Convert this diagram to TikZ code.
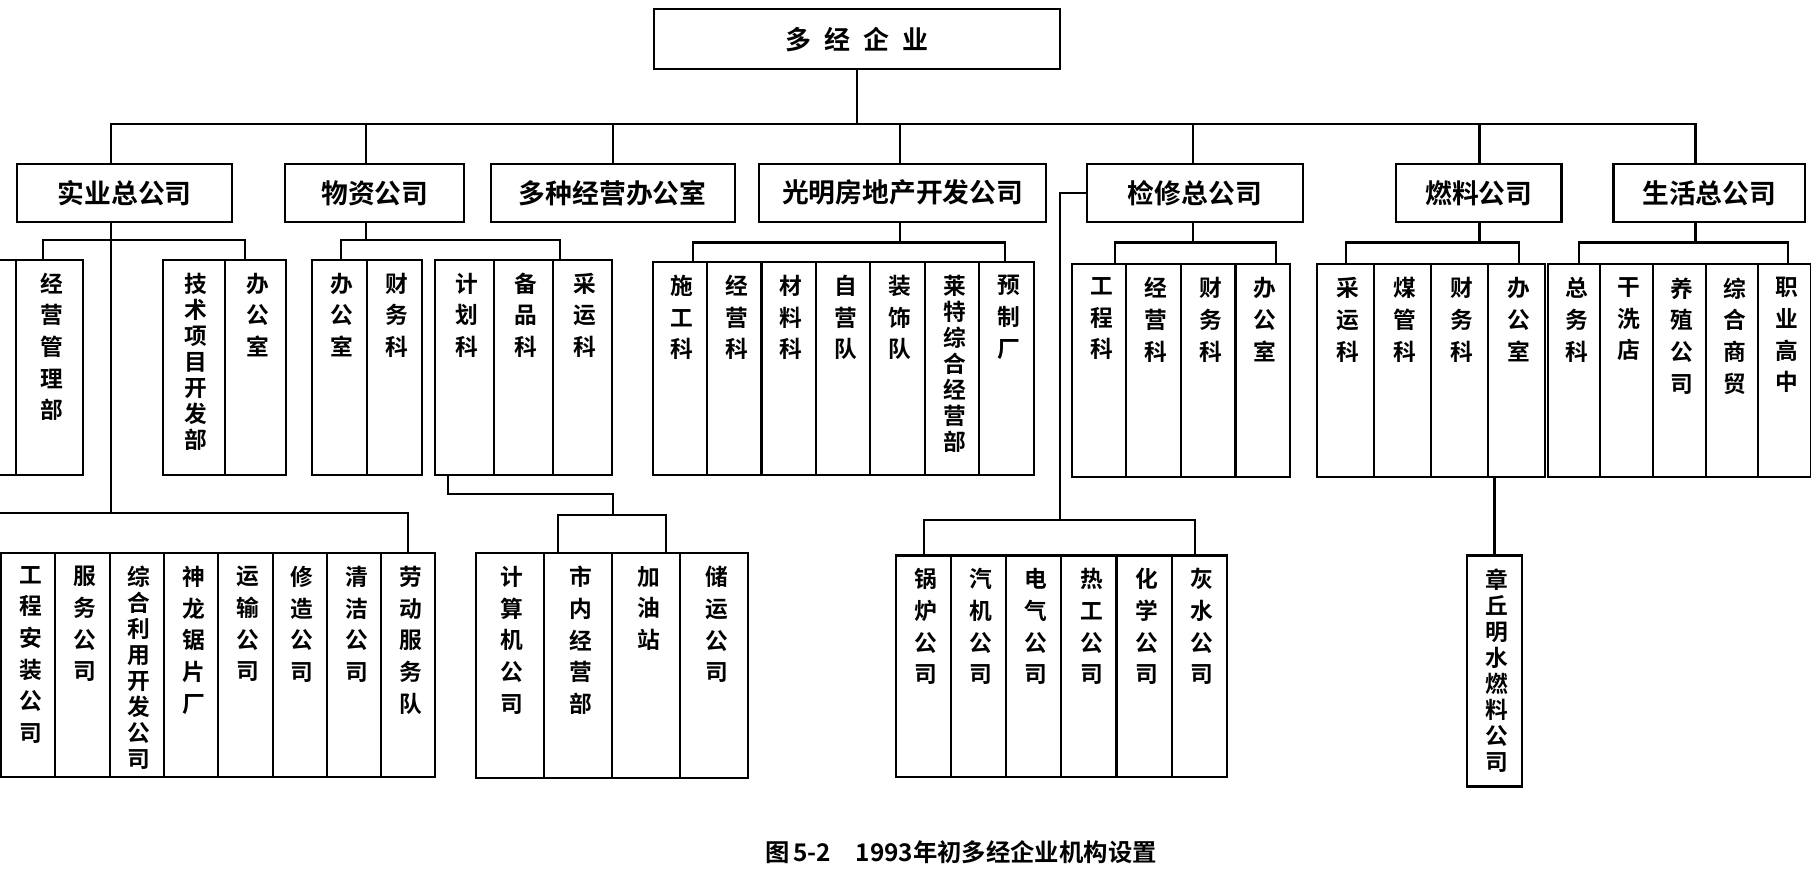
\documentclass[tikz,border=0pt]{standalone}
\usepackage{fontspec}
\newfontfamily\cjkb{Noto Sans CJK SC Bold}
\XeTeXlinebreaklocale "zh"
\XeTeXlinebreakskip=0pt plus 1pt
\newcommand\tg[1]{\fontsize{14}{16}\selectfont #1\par}
\tikzset{
  ln/.style={line width=1.3pt},
  col/.style={draw, line width=1.3pt, anchor=north, inner sep=0pt},
  vtxt/.style={anchor=north, text width=1.1em, align=center, inner sep=0pt, font=\cjkb\fontsize{14}{19.5}\selectfont},
  top/.style={draw, line width=1.3pt, inner sep=0pt, font=\cjkb\fontsize{16.5}{20}\selectfont}
}
% #1 prefix, #2 left, #3 col width, #4 top, #5 bottom, #6 list
\newcommand\grp[6]{%
  \foreach \t [count=\i] in {#6}{%
    \node[col, minimum width={#3*0.25mm}, minimum height={(#5-#4)*0.25mm}] (#1-\i) at ({#2+(\i-0.5)*#3},#4) {};
    \node[vtxt] at ([yshift=-3mm]#1-\i.north) {\t};
  }}
\newcommand\topbox[5]{% name, x1, x2, text
  \node[top, minimum width={(#3-#2)*0.25mm}, minimum height=12.5mm] (#1) at ({(#2+#3)/2},167) {#4};}
\begin{document}
\begin{tikzpicture}[x=0.25mm,y=-0.25mm]
\clip (0,0) rectangle (1568,754);
\fill[white] (0,0) rectangle (1568,754);
% title
\node[draw, line width=1.3pt, minimum width={352*0.25mm}, minimum height=13mm, font=\cjkb\fontsize{16}{20}\selectfont] (root) at (742,34) {多\hspace{0.5em}经\hspace{0.5em}企\hspace{0.5em}业};
% level 1
\topbox{sy}{15}{201}{实业总公司}{}
\topbox{wz}{247}{402}{物资公司}{}
\topbox{dz}{425}{636}{多种经营办公室}{}
\topbox{gm}{657}{906}{光明房地产开发公司}{}
\topbox{jx}{941}{1128}{检修总公司}{}
\topbox{rl}{1209}{1352}{燃料公司}{}
\topbox{sh}{1397}{1563}{生活总公司}{}
\coordinate (bus) at (742,107);
\draw[ln] (root.south) -- (bus);
\draw[ln] (sy.north -| 96,0) |- (bus) -| (sh.north -| 1468,0);
\foreach \n/\x in {wz/317,dz/531,gm/779,jx/1033,rl/1281}{\draw[ln] (\n.north -| \x,0) -- (\x,107);}
% level 2
\node[col, minimum width={40*0.25mm}, minimum height={186*0.25mm}] (syp) at (-6,224) {};
\grp{sya}{14}{58}{224}{410}{经营管理部}
\grp{syb}{141}{53.5}{224}{410}{\tg{技术项目开发部},办公室}
\grp{wza}{270}{47.5}{224}{410}{办公室,财务科}
\grp{wzb}{377}{51}{224}{410}{计划科,备品科,采运科}
\grp{gmc}{565}{47.14}{226}{410}{施工科,经营科,材料科,自营队,装饰队,\tg{莱特综合经营部},预制厂}
\grp{jxc}{928}{47.25}{228}{412}{工程科,经营科,财务科,办公室}
\grp{rlc}{1140}{49.5}{228}{412}{采运科,煤管科,财务科,办公室}
\grp{shc}{1340}{45.6}{228}{412}{总务科,干洗店,养殖公司,综合商贸,职业高中}
% level 2 connectors
\draw[ln] (sy.south -| 96,0) -- (96,208);
\draw[ln] (sya-1.north -| 37,0) |- (96,208) -| (syb-1.north -| 212,0);
\draw[ln] (wz.south -| 317,0) -- (317,208);
\draw[ln] (wza-1.north -| 295,0) |- (317,208) -| (wzb-1.north -| 485,0);
\draw[ln] (gm.south -| 779,0) -- (779,210);
\draw[ln] (gmc-1.north -| 600,0) |- (779,210) -| (gmc-7.north -| 870,0);
\draw[ln] (jx.south -| 1033,0) -- (1033,210);
\draw[ln] (jxc-1.north -| 965,0) |- (1033,210) -| (jxc-4.north -| 1105,0);
\draw[ln] (rl.south -| 1281,0) -- (1281,210);
\draw[ln] (rlc-1.north -| 1165,0) |- (1281,210) -| (rlc-4.north -| 1315,0);
\draw[ln] (sh.south -| 1468,0) -- (1468,210);
\draw[ln] (shc-1.north -| 1367,0) |- (1468,210) -| (shc-5.north -| 1548,0);
% level 3
\grp{syd}{1}{47}{478}{672}{工程安装公司,服务公司,\tg{综合利用开发公司},神龙锯片厂,运输公司,修造公司,清洁公司,劳动服务队}
\grp{wzd}{412}{59}{478}{673}{计算机公司,市内经营部,加油站,储运公司}
\grp{jxd}{776}{47.67}{480}{672}{锅炉公司,汽机公司,电气公司,热工公司,化学公司,灰水公司}
\node[col, minimum width={48*0.25mm}, minimum height={200*0.25mm}] (zq) at (1294,480) {};
\node[vtxt] at ([yshift=-3mm]zq.north) {\tg{章丘明水燃料公司}};
% level 3 connectors
\coordinate (sybus) at (96,444);
\draw[ln] (sy.south -| 96,0) -- (sybus);
\draw[ln] (-10,444) -- (sybus) -| (syd-8.north -| 353,0);
\draw[ln] (wzb-1.south -| 388,0) |- (531,428) -- (531,446);
\draw[ln] (wzd-2.north -| 483,0) |- (531,446) -| (wzd-3.north -| 577,0);
\coordinate (jxbus) at (918,450);
\draw[ln] (jx.west) -- (jx.west -| 918,0) -- (jxbus);
\draw[ln] (jxd-1.north -| 800,0) |- (jxbus) -| (jxd-6.north -| 1035,0);
\draw[ln] (rlc-4.south -| 1294,0) -- (zq.north);
% caption
\node[font=\cjkb\fontsize{15}{18}\selectfont, inner sep=0pt] (cap) at (832,738) {图\,5-2\quad 1993年初多经企业机构设置};
\end{tikzpicture}
\end{document}
